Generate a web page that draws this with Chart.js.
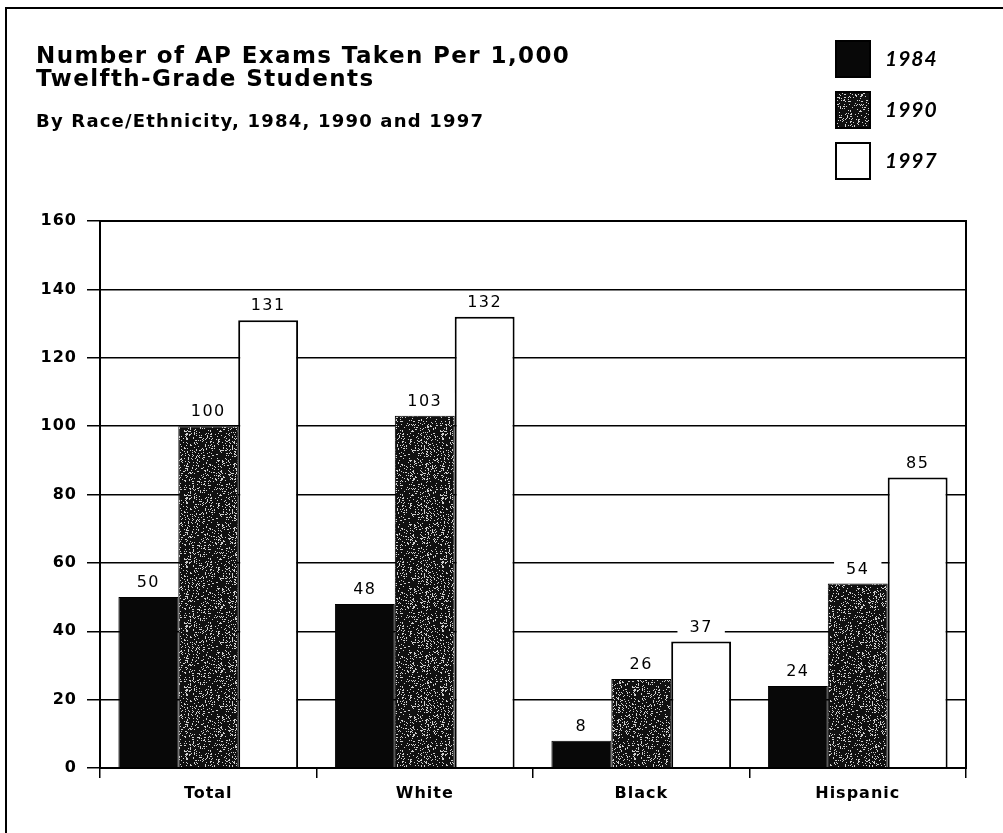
<!DOCTYPE html>
<html lang="en">
<head>
    <meta charset="UTF-8">
    <title>Number of AP Exams Taken Per 1,000 Twelfth-Grade Students</title>
    <script src="https://cdn.jsdelivr.net/npm/chart.js@4.4.1/dist/chart.umd.min.js"></script>
    <style>
        html, body { margin: 0; padding: 0; background: #fff; }
        #wrap { width: 1003px; height: 833px; position: relative; }
    </style>
</head>
<body>
    <div id="wrap">
        <canvas id="chart" width="1003" height="833"></canvas>
    </div>

    <script>
        // data
        const groups = ['Total', 'White', 'Black', 'Hispanic'];
        const years = ['1984', '1990', '1997'];
        const exams1984 = [50, 48, 8, 24];
        const exams1990 = [100, 103, 26, 54];
        const exams1997 = [131, 132, 37, 85];
        const yTicks = [0, 20, 40, 60, 80, 100, 120, 140, 160];

        const titleLines = ['Number of AP Exams Taken Per 1,000', 'Twelfth-Grade Students'];
        const subtitle = 'By Race/Ethnicity, 1984, 1990 and 1997';

        // speckled dark fill for the 1990 bars (fixed scatter, just a texture)
        function speckle(base, dots) {
            const size = 64;
            const c = document.createElement('canvas');
            c.width = size; c.height = size;
            const g = c.getContext('2d');
            g.fillStyle = base;
            g.fillRect(0, 0, size, size);
            g.fillStyle = '#cfcfcf';
            let s = 12345;
            const next = () => { s = (s * 1103515245 + 12345) % 2147483648; return s / 2147483648; };
            for (let i = 0; i < dots; i++) {
                g.fillRect(Math.floor(next() * size), Math.floor(next() * size), 1, 1);
            }
            return g.createPattern(c, 'repeat');
        }

        // title, legend, frame and the value labels
        const decor = {
            id: 'decor',
            beforeDraw(chart) {
                // slightly spaced lettering for the axis labels
                chart.ctx.letterSpacing = '1px';
            },
            afterDatasetsDraw(chart) {
                const ctx = chart.ctx;
                const area = chart.chartArea;
                ctx.save();
                // box round the plot
                ctx.strokeStyle = '#000';
                ctx.lineWidth = 2;
                ctx.strokeRect(area.left, area.top, area.right - area.left, area.bottom - area.top);

                // value labels with a white patch behind them
                ctx.letterSpacing = '1.5px';
                ctx.font = '16px "DejaVu Sans", sans-serif';
                ctx.textAlign = 'center';
                ctx.textBaseline = 'middle';
                chart.data.datasets.forEach((ds, i) => {
                    chart.getDatasetMeta(i).data.forEach((bar, j) => {
                        const txt = String(ds.data[j]);
                        const w = ctx.measureText(txt).width;
                        const y = bar.y - 14;
                        ctx.fillStyle = '#fff';
                        ctx.fillRect(bar.x - w / 2 - 12, y - 9, w + 24, 18);
                        ctx.fillStyle = '#000';
                        ctx.fillText(txt, bar.x, y);
                    });
                });
                ctx.restore();
            },
            afterDraw(chart) {
                const ctx = chart.ctx;
                ctx.save();
                // outer frame (left and top edges only)
                ctx.strokeStyle = '#000';
                ctx.lineWidth = 2;
                ctx.beginPath();
                ctx.moveTo(6, 833);
                ctx.lineTo(6, 8);
                ctx.lineTo(1003, 8);
                ctx.stroke();

                // title block
                ctx.fillStyle = '#000';
                ctx.textAlign = 'left';
                ctx.textBaseline = 'alphabetic';
                ctx.letterSpacing = '1.4px';
                ctx.font = 'bold 23px "DejaVu Sans", sans-serif';
                ctx.fillText(titleLines[0], 36, 63);
                ctx.fillText(titleLines[1], 36, 86);
                ctx.letterSpacing = '1.2px';
                ctx.font = 'bold 18px "DejaVu Sans", sans-serif';
                ctx.fillText(subtitle, 36, 127);

                // legend
                const boxTops = [41, 92, 143];
                ctx.letterSpacing = '1px';
                chart.data.datasets.forEach((ds, i) => {
                    const y = boxTops[i];
                    ctx.fillStyle = ds.backgroundColor;
                    ctx.fillRect(836, y, 34, 36);
                    ctx.strokeStyle = '#000';
                    ctx.lineWidth = 2;
                    ctx.strokeRect(836, y, 34, 36);
                    ctx.fillStyle = '#000';
                    ctx.font = 'italic bold 21px Lato, sans-serif';
                    ctx.textBaseline = 'middle';
                    ctx.fillText(ds.label, 885, y + 18);
                });
                ctx.restore();
            }
        };

        new Chart(document.getElementById('chart'), {
            type: 'bar',
            data: {
                labels: groups,
                datasets: [
                    { label: years[0], data: exams1984, backgroundColor: '#080808', borderColor: '#000', borderWidth: 1 },
                    { label: years[1], data: exams1990, backgroundColor: speckle('#101010', 700), borderColor: '#000', borderWidth: 1 },
                    { label: years[2], data: exams1997, backgroundColor: '#ffffff', borderColor: '#000', borderWidth: 2 }
                ]
            },
            options: {
                responsive: false,
                animation: false,
                layout: { padding: { top: 221, right: 37, bottom: 0, left: 0 } },
                datasets: { bar: { categoryPercentage: 0.83, barPercentage: 1.0 } },
                plugins: {
                    legend: { display: false },
                    title: { display: false },
                    tooltip: { enabled: false }
                },
                scales: {
                    x: {
                        afterFit: s => { s.height = 65; },
                        grid: { drawOnChartArea: false, drawTicks: true, tickLength: 10, color: '#000', lineWidth: 1.5 },
                        border: { color: '#000', width: 2 },
                        ticks: { color: '#000', font: { family: '"DejaVu Sans", sans-serif', size: 16, weight: 'bold' }, padding: 6 }
                    },
                    y: {
                        min: 0,
                        max: 160,
                        afterFit: s => { s.width = 100; },
                        afterBuildTicks: s => { s.ticks = yTicks.map(v => ({ value: v })); },
                        grid: { color: '#000', lineWidth: 1.5, tickLength: 13 },
                        border: { color: '#000', width: 2 },
                        ticks: { color: '#000', font: { family: '"DejaVu Sans", sans-serif', size: 16, weight: 'bold' }, padding: 10 }
                    }
                }
            },
            plugins: [decor]
        });
    </script>
</body>
</html>
